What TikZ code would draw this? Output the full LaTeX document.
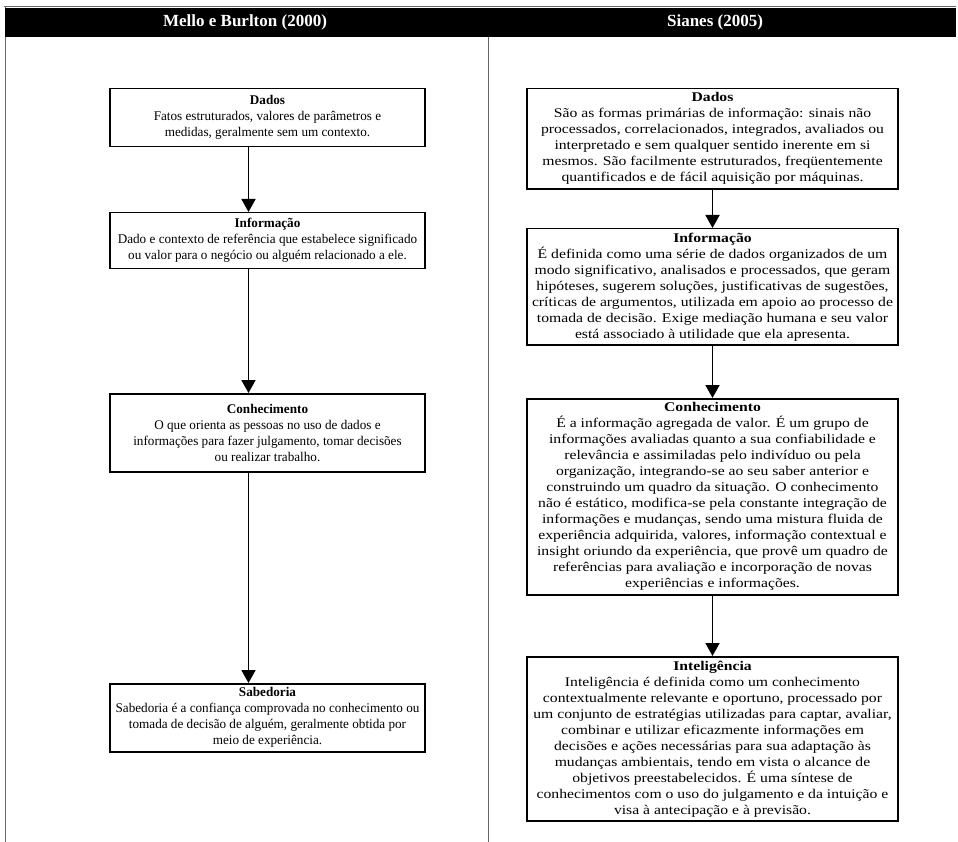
\documentclass[tikz,border=0pt]{standalone}
\usepackage{fontspec}
\setmainfont{Liberation Serif}[FakeStretch=1.18]
\newfontfamily\leftfont{Liberation Serif}[FakeStretch=0.99]
\newfontfamily\hdrfont{Liberation Serif}
\usetikzlibrary{arrows.meta}
\tikzset{
  box/.style={draw, line width=1.5pt, align=center, inner sep=4pt, anchor=north},
  lbox/.style={box, minimum width=315pt, font=\leftfont\fontsize{13.3}{16}\selectfont},
  rbox/.style={box, minimum width=371pt, font=\fontsize{13.3}{16}\selectfont},
  flow/.style={-{Triangle[width=14pt,length=13pt]}, line width=1.8pt},
  hdr/.style={text=white, font=\hdrfont\bfseries\fontsize{17}{20}\selectfont},
  framel/.style={line width=0.6pt, black!60}
}
\begin{document}
\begin{tikzpicture}[x=1pt,y=-1pt]
\useasboundingbox (0,0) rectangle (958,842);
% frame
\draw[framel] (4,6) -- (956,6);
\draw[framel] (5,6) -- (5,842);
\draw[framel] (488,37) -- (488,842);
\fill[black] (5,8) rectangle (956,37);
\node[hdr] (h1) at (245,22) {Mello e Burlton (2000)};
\node[hdr] (h2) at (715,22) {Sianes (2005)};
% left column
\node[lbox, minimum height=58pt] (ld) at (267.5,88) {{\bfseries Dados}\\Fatos estruturados, valores de parâmetros e\\medidas, geralmente sem um contexto.};
\node[lbox, minimum height=56pt] (li) at (267.5,212) {{\bfseries Informação}\\Dado e contexto de referência que estabelece significado\\ou valor para o negócio ou alguém relacionado a ele.};
\node[lbox, minimum height=78pt] (lc) at (267.5,393) {{\bfseries Conhecimento}\\O que orienta as pessoas no uso de dados e\\informações para fazer julgamento, tomar decisões\\ou realizar trabalho.};
\node[lbox, minimum height=67pt] (ls) at (267.5,683) {{\bfseries Sabedoria}\\Sabedoria é a confiança comprovada no conhecimento ou\\tomada de decisão de alguém, geralmente obtida por\\meio de experiência.};
\draw[flow] ([xshift=-19pt]ld.south) -- ([xshift=-19pt]li.north);
\draw[flow] ([xshift=-19pt]li.south) -- ([xshift=-19pt]lc.north);
\draw[flow] ([xshift=-19pt]lc.south) -- ([xshift=-19pt]ls.north);
% right column
\node[rbox] (rd) at (712.5,88) {{\bfseries Dados}\\São as formas primárias de informação: sinais não\\processados, correlacionados, integrados, avaliados ou\\interpretado e sem qualquer sentido inerente em si\\mesmos. São facilmente estruturados, freqüentemente\\quantificados e de fácil aquisição por máquinas.};
\node[rbox] (ri) at (712.5,228) {{\bfseries Informação}\\É definida como uma série de dados organizados de um\\modo significativo, analisados e processados, que geram\\hipóteses, sugerem soluções, justificativas de sugestões,\\críticas de argumentos, utilizada em apoio ao processo de\\tomada de decisão. Exige mediação humana e seu valor\\está associado à utilidade que ela apresenta.};
\node[rbox] (rc) at (712.5,398) {{\bfseries Conhecimento}\\É a informação agregada de valor. É um grupo de\\informações avaliadas quanto a sua confiabilidade e\\relevância e assimiladas pelo indivíduo ou pela\\organização, integrando-se ao seu saber anterior e\\construindo um quadro da situação. O conhecimento\\não é estático, modifica-se pela constante integração de\\informações e mudanças, sendo uma mistura fluida de\\experiência adquirida, valores, informação contextual e\\insight oriundo da experiência, que provê um quadro de\\referências para avaliação e incorporação de novas\\experiências e informações.};
\node[rbox] (rt) at (712.5,656) {{\bfseries Inteligência}\\Inteligência é definida como um conhecimento\\contextualmente relevante e oportuno, processado por\\um conjunto de estratégias utilizadas para captar, avaliar,\\combinar e utilizar eficazmente informações em\\decisões e ações necessárias para sua adaptação às\\mudanças ambientais, tendo em vista o alcance de\\objetivos preestabelecidos. É uma síntese de\\conhecimentos com o uso do julgamento e da intuição e\\visa à antecipação e à previsão.};
\draw[flow] (rd.south) -- (ri.north);
\draw[flow] (ri.south) -- (rc.north);
\draw[flow] (rc.south) -- (rt.north);
\end{tikzpicture}
\end{document}
